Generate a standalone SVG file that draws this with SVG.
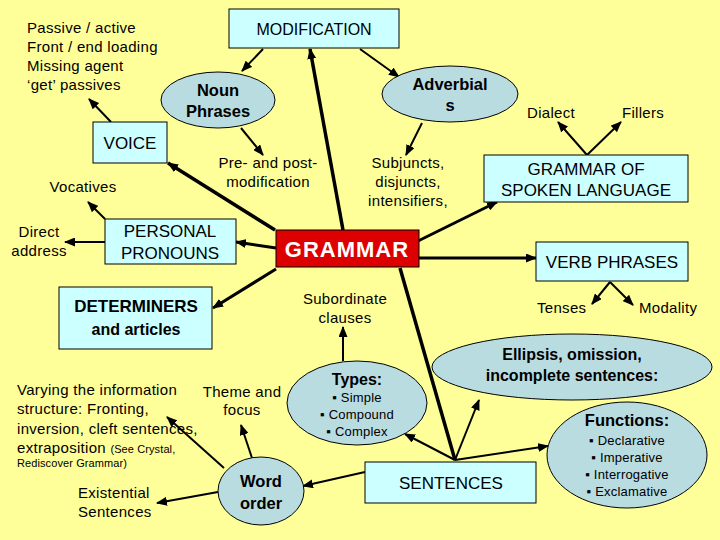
<svg xmlns="http://www.w3.org/2000/svg" width="720" height="540" viewBox="0 0 720 540">
<defs>
<marker id="ah" markerUnits="userSpaceOnUse" markerWidth="11" markerHeight="9" refX="10" refY="4.5" orient="auto">
<path d="M0,0 L11,4.5 L0,9 Z" fill="#000"/>
</marker>
<style>
text{font-family:"Liberation Sans",Arial,sans-serif;fill:#000}
.t{font-size:15px;letter-spacing:0.3px}
.s{font-size:13px;letter-spacing:0.2px}
.xs{font-size:11px;letter-spacing:0.1px}
.cap{font-size:17px}
.b{font-weight:bold}
.box{fill:#CCFFFF;stroke:#000;stroke-width:1}
.ell{fill:#B9DCE1;stroke:#000;stroke-width:1}
.a{stroke:#000;stroke-width:2;fill:none;marker-end:url(#ah)}
.k{stroke:#000;stroke-width:3;fill:none;marker-end:url(#ah)}
.kk{stroke:#000;stroke-width:3.5;fill:none;marker-end:url(#ah)}
.m{text-anchor:middle}
</style>
</defs>
<rect width="720" height="540" fill="#FFFF99"/>

<g id="connectors">
<line class="a" x1="263" y1="49" x2="242" y2="71"/>
<line class="a" x1="360" y1="49" x2="399" y2="77"/>
<line class="a" x1="241" y1="128" x2="263" y2="155"/>
<line class="a" x1="422" y1="123" x2="406" y2="155"/>
<line class="a" x1="587" y1="155" x2="558" y2="122"/>
<line class="a" x1="587" y1="155" x2="621" y2="122"/>
<line class="a" x1="111" y1="122" x2="89" y2="99"/>
<line class="kk" x1="275" y1="230" x2="168" y2="163"/>
<line class="kk" x1="343" y1="230" x2="310" y2="49"/>
<line class="k" x1="418" y1="241" x2="497" y2="202"/>
<line class="k" x1="419" y1="258" x2="536" y2="258"/>
<line class="k" x1="276" y1="248" x2="236" y2="242"/>
<line class="k" x1="276" y1="269" x2="213" y2="308"/>
<line stroke="#000" stroke-width="3.5" x1="400" y1="268" x2="455" y2="460"/>
<line class="a" x1="105" y1="219" x2="88" y2="202"/>
<line class="a" x1="105" y1="242" x2="65" y2="242"/>
<line class="a" x1="610" y1="282" x2="592" y2="304"/>
<line class="a" x1="610" y1="282" x2="633" y2="305"/>
<line class="a" x1="343" y1="361" x2="343" y2="327"/>
<line class="a" x1="455" y1="460" x2="405" y2="434"/>
<line class="a" x1="455" y1="460" x2="479" y2="400"/>
<line class="a" x1="455" y1="460" x2="548" y2="446"/>
<line class="a" x1="365" y1="472" x2="303" y2="486"/>
<line class="a" x1="224" y1="468" x2="167" y2="417"/>
<line class="a" x1="252" y1="458" x2="241" y2="425"/>
<line class="a" x1="218" y1="492" x2="157" y2="503"/>
</g>

<g id="passive">
<text class="t" x="27" y="33">Passive / active</text>
<text class="t" x="27" y="52">Front / end loading</text>
<text class="t" x="27" y="71">Missing agent</text>
<text class="t" x="27" y="90">‘get’ passives</text>
</g>
<g id="modification">
<rect class="box" x="229" y="9" width="170" height="39"/>
<text class="m" x="314" y="35" font-size="16">MODIFICATION</text>
</g>
<g id="noun-phrases">
<ellipse class="ell" cx="218" cy="100" rx="57" ry="28"/>
<text class="m b" x="218" y="96" font-size="16.5">Noun</text>
<text class="m b" x="218" y="117" font-size="16.5">Phrases</text>
</g>
<g id="adverbials">
<ellipse class="ell" cx="450" cy="94" rx="68" ry="28"/>
<text class="m b" x="450" y="90" font-size="16.5">Adverbial</text>
<text class="m b" x="450" y="111" font-size="16.5">s</text>
</g>
<g id="dialect"><text class="t" x="527" y="118">Dialect</text></g>
<g id="fillers"><text class="t" x="622" y="118">Fillers</text></g>
<g id="voice">
<rect class="box" x="93" y="122" width="74" height="41"/>
<text class="m cap" x="130" y="149">VOICE</text>
</g>
<g id="pre-post">
<text class="t m" x="268" y="168">Pre- and post-</text>
<text class="t m" x="268" y="187">modification</text>
</g>
<g id="subjuncts">
<text class="t m" x="408" y="168">Subjuncts,</text>
<text class="t m" x="408" y="187">disjuncts,</text>
<text class="t m" x="408" y="206">intensifiers,</text>
</g>
<g id="spoken">
<rect class="box" x="484" y="155" width="204" height="47"/>
<text class="m cap" x="586" y="175">GRAMMAR OF</text>
<text class="m cap" x="586" y="196">SPOKEN LANGUAGE</text>
</g>
<g id="vocatives"><text class="t m" x="83" y="192">Vocatives</text></g>
<g id="direct-address">
<text class="t m" x="39" y="237">Direct</text>
<text class="t m" x="39" y="256">address</text>
</g>
<g id="personal-pronouns">
<rect class="box" x="105" y="219" width="131" height="45"/>
<text class="m cap" x="170" y="237">PERSONAL</text>
<text class="m cap" x="170" y="259">PRONOUNS</text>
</g>
<g id="grammar">
<rect x="276" y="230" width="143" height="37" fill="#DD0000" stroke="#000" stroke-width="1"/>
<text class="m b" x="347" y="257" font-size="22" letter-spacing="1" style="fill:#fff">GRAMMAR</text>
</g>
<g id="verb-phrases">
<rect class="box" x="536" y="242" width="152" height="39"/>
<text class="m cap" x="612" y="268">VERB PHRASES</text>
</g>
<g id="tenses"><text class="t" x="537" y="313">Tenses</text></g>
<g id="modality"><text class="t" x="639" y="313">Modality</text></g>
<g id="determiners">
<rect class="box" x="59" y="287" width="153" height="62"/>
<text class="m b" x="136" y="312" font-size="17">DETERMINERS</text>
<text class="m b" x="136" y="335" font-size="16">and articles</text>
</g>
<g id="subordinate">
<text class="t m" x="345" y="304">Subordinate</text>
<text class="t m" x="345" y="323">clauses</text>
</g>
<g id="ellipsis">
<ellipse class="ell" cx="572" cy="367" rx="140" ry="33"/>
<text class="m b" x="572" y="360" font-size="16">Ellipsis, omission,</text>
<text class="m b" x="572" y="381" font-size="16">incomplete sentences:</text>
</g>
<g id="types">
<ellipse class="ell" cx="357" cy="403" rx="70" ry="42"/>
<text class="m b" x="357" y="385" font-size="16">Types:</text>
<text class="m s" x="357" y="402">▪ Simple</text>
<text class="m s" x="357" y="419">▪ Compound</text>
<text class="m s" x="357" y="436">▪ Complex</text>
</g>
<g id="varying">
<text class="t" x="17" y="395">Varying the information</text>
<text class="t" x="17" y="414">structure: Fronting,</text>
<text class="t" x="17" y="434">inversion, cleft sentences,</text>
<text class="t" x="17" y="453">extraposition <tspan class="xs">(See Crystal,</tspan></text>
<text class="xs" x="17" y="467">Rediscover Grammar)</text>
</g>
<g id="theme">
<text class="t m" x="242" y="397">Theme and</text>
<text class="t m" x="242" y="415">focus</text>
</g>
<g id="functions">
<ellipse class="ell" cx="627" cy="455" rx="80" ry="53"/>
<text class="m b" x="627" y="426" font-size="16.5">Functions:</text>
<text class="m s" x="627" y="445">▪ Declarative</text>
<text class="m s" x="627" y="462">▪ Imperative</text>
<text class="m s" x="627" y="479">▪ Interrogative</text>
<text class="m s" x="627" y="496">▪ Exclamative</text>
</g>
<g id="sentences">
<rect class="box" x="365" y="462" width="171" height="41"/>
<text class="m cap" x="451" y="489">SENTENCES</text>
</g>
<g id="word-order">
<ellipse class="ell" cx="261" cy="491" rx="43" ry="34"/>
<text class="m b" x="261" y="487" font-size="16.5">Word</text>
<text class="m b" x="261" y="509" font-size="16.5">order</text>
</g>
<g id="existential">
<text class="t" x="78" y="498">Existential</text>
<text class="t" x="78" y="517">Sentences</text>
</g>
</svg>
